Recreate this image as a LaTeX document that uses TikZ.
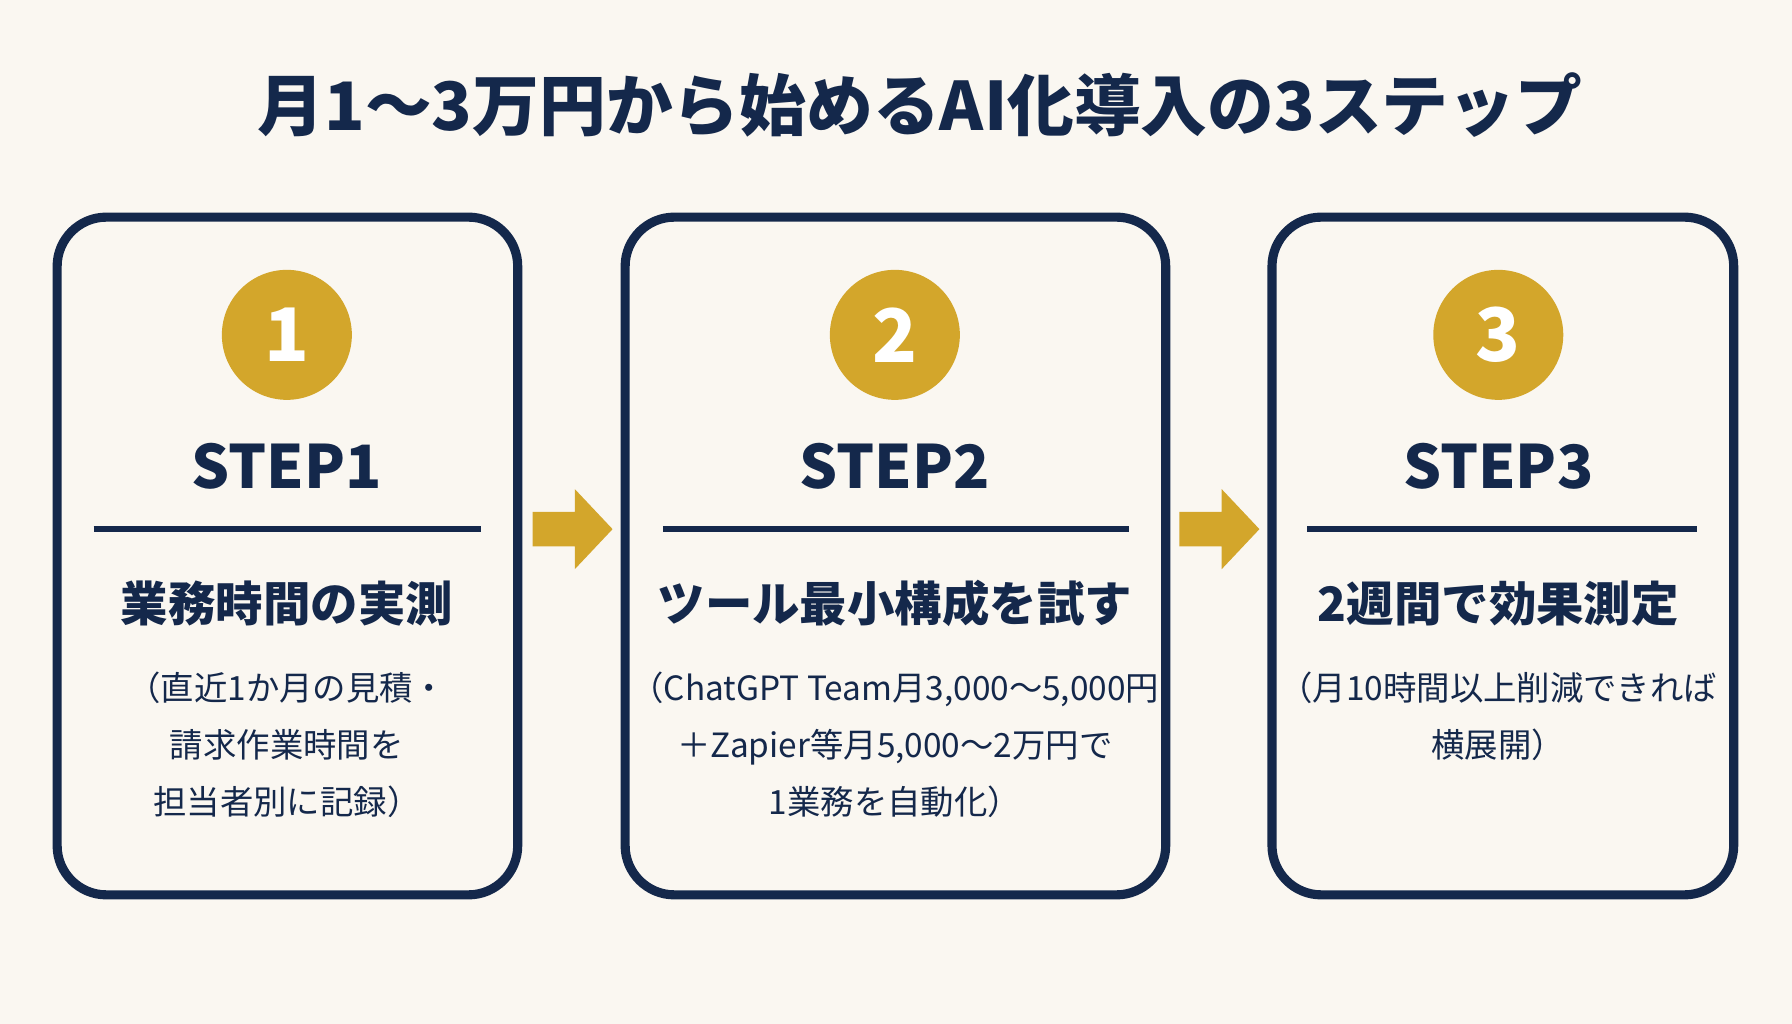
\documentclass[tikz,border=0pt]{standalone}
\usepackage{fontspec}
\setmainfont{Noto Sans CJK JP}
\usetikzlibrary{positioning}
\definecolor{navy}{HTML}{14284B}
\definecolor{gold}{HTML}{D3A62B}
\definecolor{paper}{HTML}{FAF7F1}
\tikzset{
    % step frame
    stepbox/.style={draw=navy, line width=2.6pt, rounded corners=14pt, fill=paper},
    % gold number badge
    badge/.style={circle, fill=gold, minimum size=1.3cm, text=white,
        font=\fontsize{21}{21}\selectfont\bfseries, inner sep=0pt},
    steptitle/.style={text=navy, font=\fontsize{17}{17}\selectfont\bfseries},
    stephead/.style={text=navy, font=\fontsize{13.5}{13.5}\selectfont\bfseries},
    stepnote/.style={text=navy, align=center, font=\fontsize{9.5}{16.2}\selectfont},
    % arrow between steps
    steparrow/.style={fill=gold}
}
\begin{document}
\begin{tikzpicture}[x=0.01143cm, y=-0.01143cm]
\fill[paper] (0,0) rectangle (1568,896);
\useasboundingbox (0,0) rectangle (1568,896);

\node[text=navy, font=\fontsize{19}{19}\selectfont\bfseries] (title) at (805,92) {月1〜3万円から始めるAI化導入の3ステップ};

% step 1
\draw[stepbox] (50,190) rectangle (453,783);
\node[badge] (b1) at (251,293) {1};
\node[steptitle] (s1) at (251,408) {STEP1};
\draw[navy, line width=1.6pt] (82,463) -- (421,463);
\node[stephead] (h1) at (251,528) {業務時間の実測};
\node[stepnote, anchor=north] (n1) at (251,577) {（直近1か月の見積・\\請求作業時間を\\担当者別に記録）};

% step 2
\draw[stepbox] (547,190) rectangle (1020,783);
\node[badge] (b2) at (783,293) {2};
\node[steptitle] (s2) at (783,408) {STEP2};
\draw[navy, line width=1.6pt] (580,463) -- (988,463);
\node[stephead] (h2) at (783,528) {ツール最小構成を試す};
\node[stepnote, anchor=north] (n2) at (783,577) {（ChatGPT Team月3,000〜5,000円\\＋Zapier等月5,000〜2万円で\\1業務を自動化）};

% step 3
\draw[stepbox] (1113,190) rectangle (1517,783);
\node[badge] (b3) at (1311,293) {3};
\node[steptitle] (s3) at (1311,408) {STEP3};
\draw[navy, line width=1.6pt] (1144,463) -- (1485,463);
\node[stephead] (h3) at (1311,528) {2週間で効果測定};
\node[stepnote, anchor=north] (n3) at (1311,577) {（月10時間以上削減できれば\\横展開）};

% arrows
\foreach \ax in {466,1032}
  \fill[steparrow] (\ax,448) -- ++(37,0) -- ++(0,-20) -- ++(33,35) -- ++(-33,35) -- ++(0,-20) -- ++(-37,0) -- cycle;
\end{tikzpicture}
\end{document}
